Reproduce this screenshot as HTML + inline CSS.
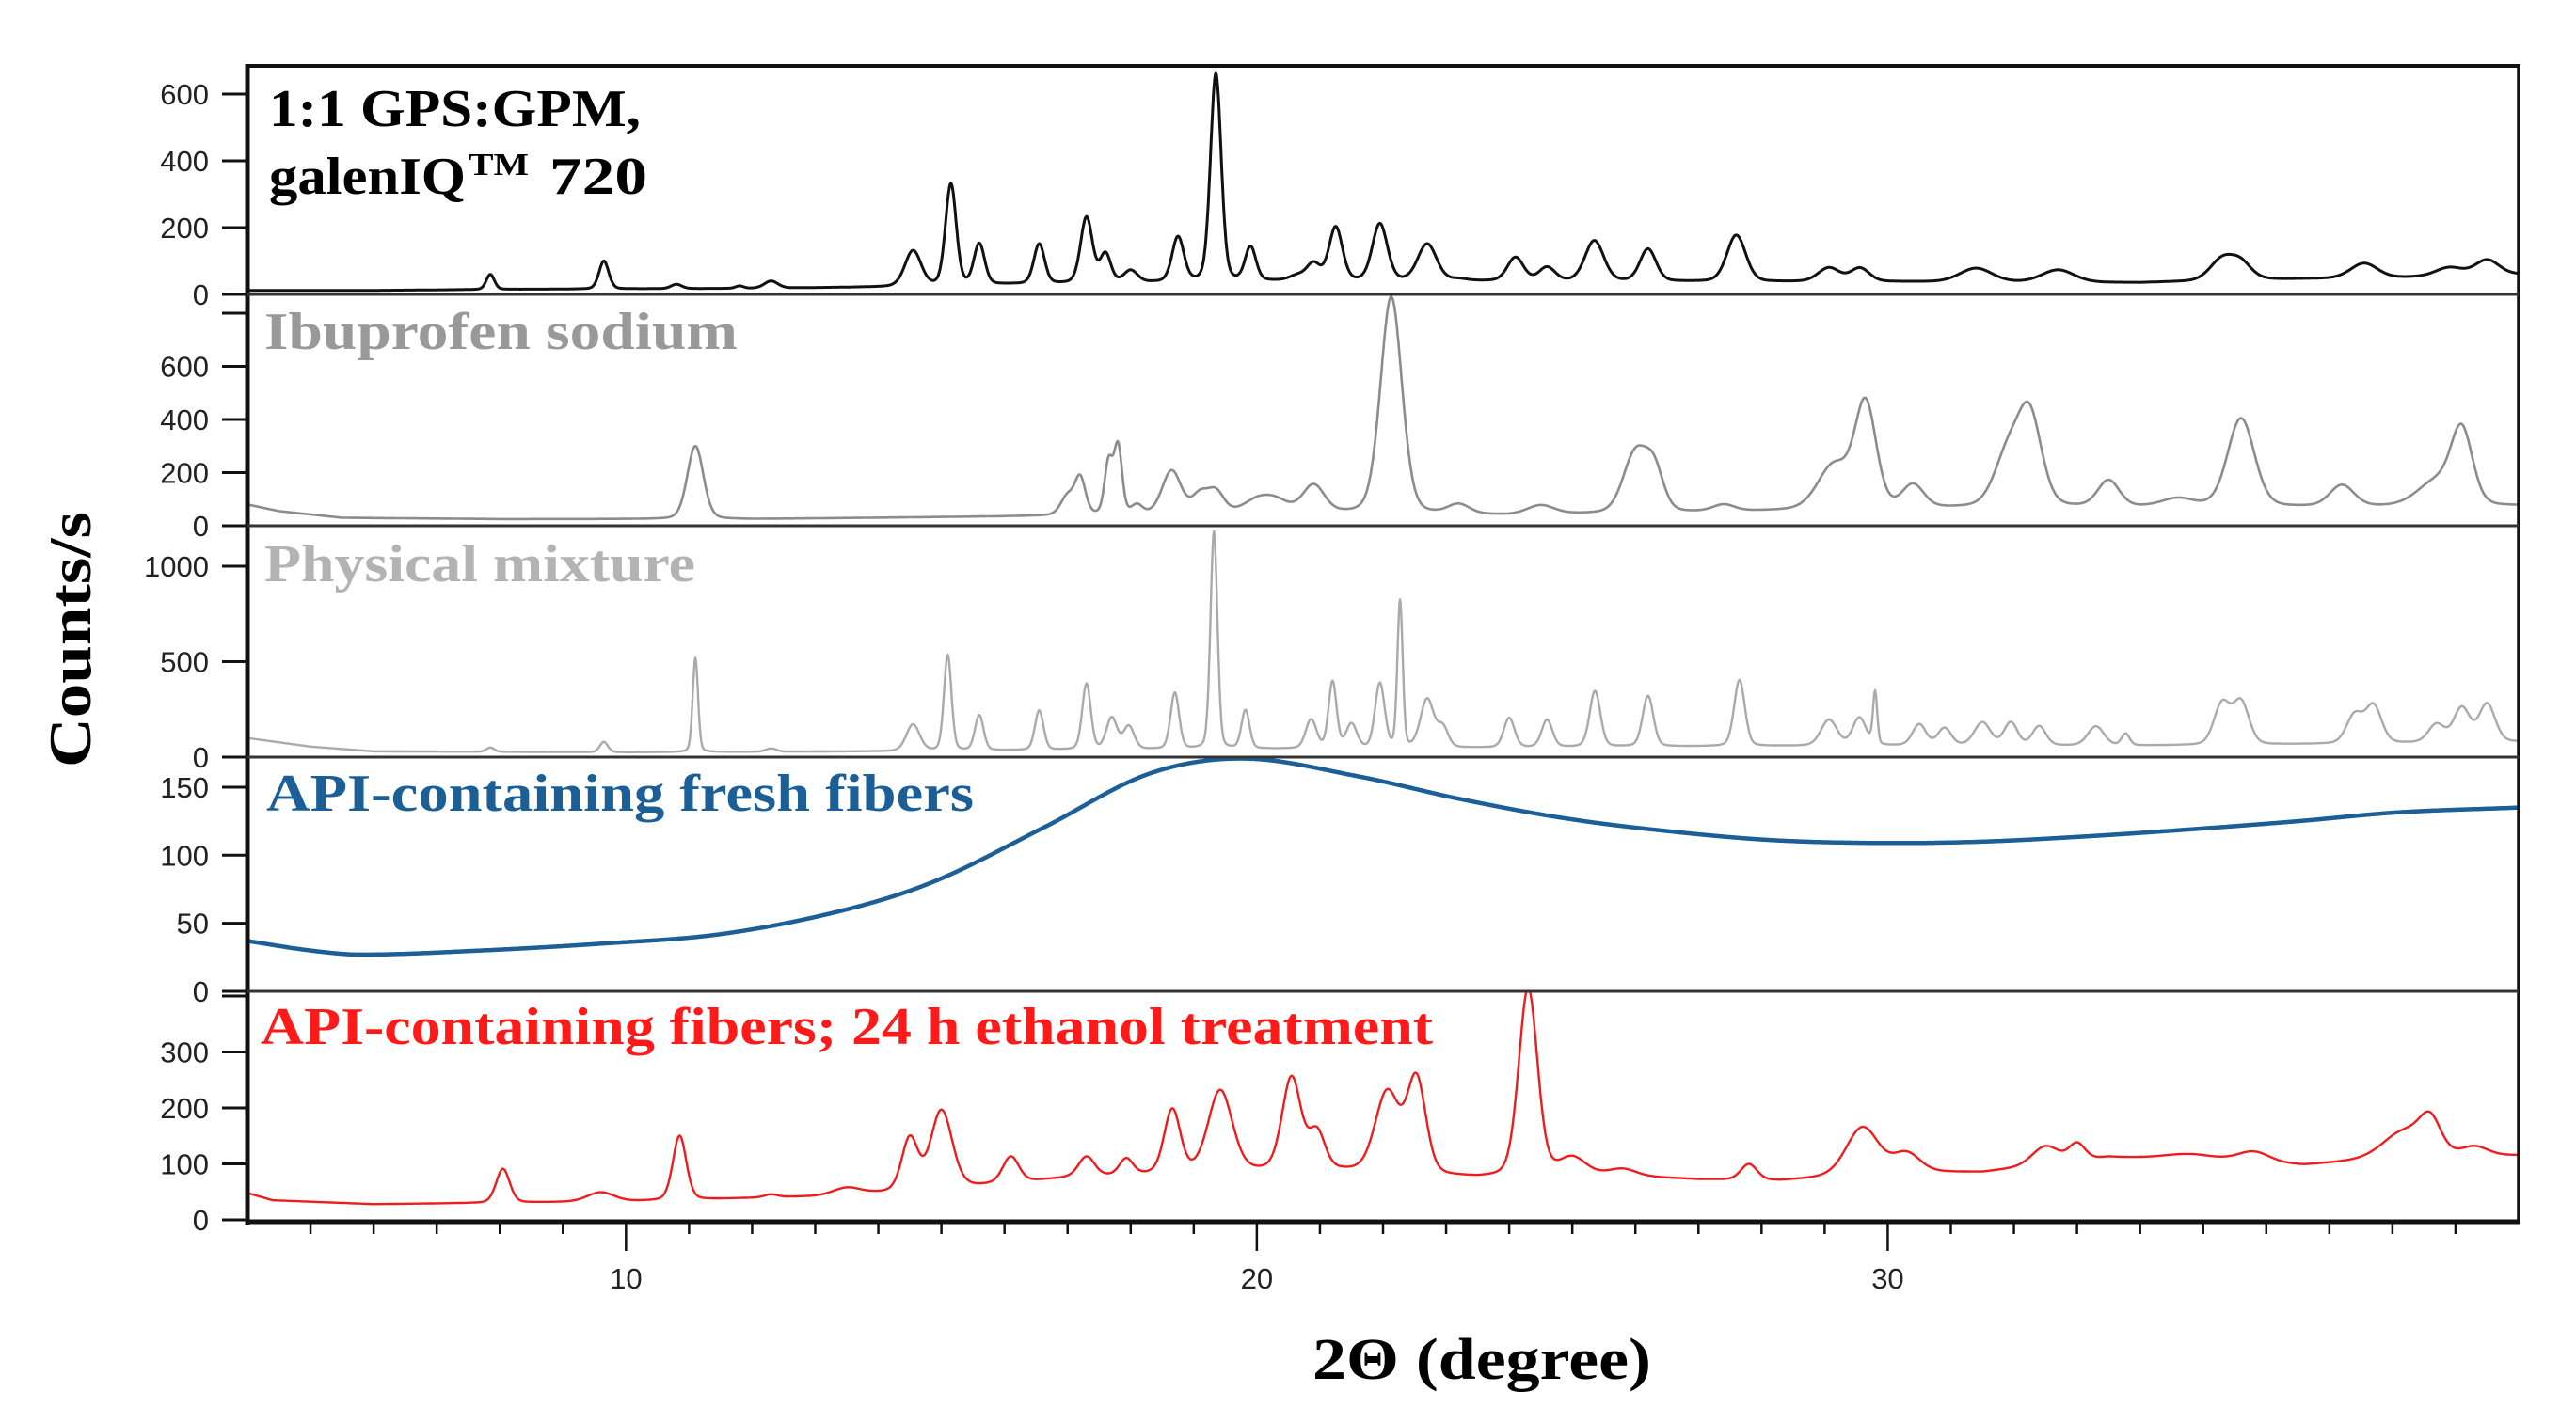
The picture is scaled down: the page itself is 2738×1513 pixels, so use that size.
<!DOCTYPE html>
<html><head><meta charset="utf-8"><style>
html,body{margin:0;padding:0;background:#fff;}
svg{display:block;}
</style></head><body>
<svg id="chart" width="2738" height="1513" viewBox="0 0 2738 1513" xmlns="http://www.w3.org/2000/svg">
<defs>
<clipPath id="c1"><rect x="263" y="70" width="2414" height="243"/></clipPath>
<clipPath id="c2"><rect x="263" y="313" width="2414" height="246"/></clipPath>
<clipPath id="c3"><rect x="263" y="559" width="2414" height="246"/></clipPath>
<clipPath id="c4"><rect x="263" y="805" width="2414" height="249"/></clipPath>
<clipPath id="c5"><rect x="263" y="1054" width="2414" height="245"/></clipPath>
</defs>
<g id="traces"></g>
<g id="frame"></g>
<g id="yticks"></g>
<g id="xticks"></g>
<text transform="translate(96,680) rotate(-90)" text-anchor="middle" font-family="Liberation Serif, serif" font-weight="bold" font-size="64" fill="#000" textLength="272" lengthAdjust="spacingAndGlyphs">Counts/s</text>
<text x="1395" y="1466" font-family="Liberation Serif, serif" font-weight="bold" font-size="62" fill="#000" textLength="360" lengthAdjust="spacingAndGlyphs">2Θ (degree)</text>
<text x="286" y="134" font-family="Liberation Serif, serif" font-weight="bold" font-size="56" fill="#000" textLength="395" lengthAdjust="spacingAndGlyphs">1:1 GPS:GPM,</text>
<g font-family="Liberation Serif, serif" font-weight="bold" fill="#000">
<text x="286" y="206" font-size="56" textLength="209" lengthAdjust="spacingAndGlyphs">galenIQ</text>
<text x="498" y="186" font-size="34" textLength="64" lengthAdjust="spacingAndGlyphs">TM</text>
<text x="584" y="206" font-size="56" textLength="104" lengthAdjust="spacingAndGlyphs">720</text>
</g>
<text x="281" y="371" font-family="Liberation Serif, serif" font-weight="bold" font-size="56" fill="#999" textLength="503" lengthAdjust="spacingAndGlyphs">Ibuprofen sodium</text>
<text x="281" y="618" font-family="Liberation Serif, serif" font-weight="bold" font-size="56" fill="#b3b3b3" textLength="458" lengthAdjust="spacingAndGlyphs">Physical mixture</text>
<text x="283" y="862" font-family="Liberation Serif, serif" font-weight="bold" font-size="56" fill="#1b5f96" textLength="752" lengthAdjust="spacingAndGlyphs">API-containing  fresh fibers</text>
<text x="277" y="1110" font-family="Liberation Serif, serif" font-weight="bold" font-size="56" fill="#ff1a1a" textLength="1246" lengthAdjust="spacingAndGlyphs">API-containing  fibers; 24 h ethanol treatment</text>
</svg>
<script>
// ---- data ----
const xDomain = [4, 40];
const xTickMajor = [10, 20, 30];
// Panel 1: 1:1 GPS:GPM galenIQ 720
const p1BaseX = [4, 6, 8, 12, 14, 16, 20, 24, 28, 30, 34, 36, 38, 40];
const p1BaseY = [12, 12, 15, 18, 22, 30, 40, 40, 38, 38, 35, 45, 50, 60];
const p1PeakX = [7.85, 9.65, 10.8, 11.8, 12.3, 14.55, 15.15, 15.6, 16.55, 17.3, 17.6, 18.0, 18.75, 19.35, 19.9, 20.65, 20.9, 21.25, 21.95, 22.7, 23.2, 24.1, 24.6, 25.35, 26.2, 27.6, 29.07, 29.56, 31.4, 32.7, 35.3, 35.6, 37.55, 38.9, 39.5];
const p1PeakY = [60, 100, 30, 25, 40, 130, 330, 150, 150, 230, 120, 70, 170, 660, 140, 55, 90, 200, 210, 150, 45, 110, 80, 160, 135, 177, 79, 78, 78, 73, 104, 90, 93, 80, 103];
const p1PeakW = [0.15, 0.18, 0.2, 0.15, 0.25, 0.3, 0.2, 0.2, 0.2, 0.22, 0.2, 0.25, 0.22, 0.2, 0.2, 0.3, 0.25, 0.25, 0.28, 0.35, 0.3, 0.3, 0.3, 0.35, 0.3, 0.35, 0.4, 0.35, 0.6, 0.6, 0.45, 0.4, 0.5, 0.5, 0.45];
// Panel 2: Ibuprofen sodium
const p2BaseX = [4, 4.5, 5.5, 8, 12, 14, 16, 20, 24, 28, 32, 36, 40];
const p2BaseY = [80, 55, 30, 25, 25, 30, 35, 50, 40, 55, 70, 70, 75];
const p2PeakX = [11.1, 17.0, 17.2, 17.65, 17.8, 18.1, 18.65, 19.1, 19.35, 20.0, 20.3, 20.9, 22.13, 23.2, 24.5, 26.0, 26.3, 27.4, 29.15, 29.65, 30.4, 31.9, 32.25, 33.5, 34.6, 35.6, 37.2, 38.7, 39.1];
const p2PeakY = [300, 110, 175, 235, 295, 75, 205, 115, 125, 90, 90, 150, 860, 77, 75, 270, 195, 77, 225, 450, 150, 260, 405, 168, 100, 403, 151, 165, 344];
const p2PeakW = [0.3, 0.25, 0.2, 0.15, 0.15, 0.2, 0.35, 0.3, 0.3, 0.5, 0.5, 0.4, 0.4, 0.4, 0.5, 0.45, 0.35, 0.4, 0.6, 0.4, 0.4, 0.5, 0.45, 0.4, 0.6, 0.5, 0.45, 0.7, 0.4];
// Panel 3: physical mixture
const p3BaseX = [4, 5, 6, 10, 14, 18, 22, 26, 30, 34, 36, 40];
const p3BaseY = [100, 55, 30, 25, 30, 40, 45, 55, 60, 60, 65, 80];
const p3PeakX = [7.85, 9.65, 11.1, 12.3, 14.55, 15.1, 15.6, 16.55, 17.3, 17.7, 17.97, 18.7, 19.32, 19.82, 20.86, 21.2, 21.5, 21.95, 22.27, 22.7, 22.95, 24.0, 24.6, 25.36, 26.2, 27.65, 29.07, 29.55, 29.8, 30.5, 30.9, 31.5, 31.95, 32.4, 33.3, 33.77, 35.3, 35.6, 37.4, 37.7, 38.7, 39.1, 39.5];
const p3PeakY = [50, 80, 520, 45, 170, 534, 218, 243, 383, 204, 160, 335, 1180, 243, 194, 393, 170, 383, 815, 301, 150, 204, 194, 345, 320, 403, 194, 204, 335, 170, 150, 180, 180, 160, 160, 121, 277, 286, 218, 267, 170, 257, 277];
const p3PeakW = [0.15, 0.15, 0.1, 0.2, 0.25, 0.14, 0.16, 0.16, 0.16, 0.2, 0.2, 0.16, 0.13, 0.15, 0.2, 0.15, 0.2, 0.18, 0.1, 0.25, 0.2, 0.2, 0.2, 0.2, 0.2, 0.2, 0.3, 0.25, 0.08, 0.25, 0.25, 0.3, 0.25, 0.25, 0.3, 0.15, 0.3, 0.3, 0.3, 0.3, 0.3, 0.3, 0.3];
// Panel 4: fresh fibers (amorphous halo)
const p4X = [4.0, 5.0, 5.8, 7.7, 9.6, 11.5, 13.4, 14.9, 16.65, 18.3, 19.8, 21.6, 23.25, 24.9, 26.55, 28.2, 29.9, 31.5, 33.2, 34.8, 36.5, 38.1, 40.0];
const p4Y = [37, 30, 27, 30, 35, 42, 59, 81, 121, 160, 171, 158, 141, 127, 117.5, 111, 109, 110, 114, 119, 125, 131.5, 135];
// Panel 5: ethanol-treated fibers
const p5BaseX = [4, 4.4, 6, 10, 13, 14, 15.5, 17, 19, 21, 23.5, 25, 27, 28.3, 30.2, 31.5, 33.5, 36.6, 38, 40];
const p5BaseY = [48, 35, 28, 33, 42, 48, 60, 75, 85, 90, 75, 82, 72, 70, 85, 85, 112, 98, 110, 115];
const p5PeakX = [8.05, 9.6, 10.85, 12.3, 13.5, 14.5, 15.0, 16.1, 17.3, 17.93, 18.66, 19.42, 20.55, 20.95, 22.07, 22.53, 24.3, 25.0, 25.8, 27.8, 29.6, 30.3, 32.5, 33.0, 34.8, 35.8, 38.2, 38.6, 39.3];
const p5PeakY = [91, 49, 150, 45, 57, 145, 195, 112, 112, 108, 196, 230, 253, 155, 227, 249, 413, 110, 90, 99, 165, 118, 131, 135, 117, 121, 158, 168, 130];
const p5PeakW = [0.25, 0.5, 0.25, 0.25, 0.5, 0.3, 0.4, 0.3, 0.3, 0.25, 0.3, 0.45, 0.35, 0.3, 0.45, 0.35, 0.35, 0.5, 0.5, 0.3, 0.6, 0.5, 0.5, 0.3, 1.0, 0.6, 0.8, 0.4, 0.5];
// axis tick labels per panel
const p1Ticks = [0, 200, 400, 600];
const p2Ticks = [0, 200, 400, 600, 800];
const p3Ticks = [0, 500, 1000];
const p4Ticks = [0, 50, 100, 150];
const p5Ticks = [0, 100, 200, 300, 400];
const p2Hidden = [800];
const p5Hidden = [400];

// ---- layout ----
const X0 = 263, X1 = 2677;
function xs(v) { return X0 + (v - xDomain[0]) * (X1 - X0) / (xDomain[1] - xDomain[0]); }
const panels = [
  {zero: 313, ppu: 0.355, top: 70},
  {zero: 559, ppu: 0.2825, top: 313},
  {zero: 805, ppu: 0.203, top: 559},
  {zero: 1054, ppu: 1.447, top: 805},
  {zero: 1297, ppu: 0.595, top: 1054}
];
function ys(p, v) { return panels[p].zero - v * panels[p].ppu; }
function interp(xa, ya, x) {
  if (x <= xa[0]) return ya[0];
  for (let i = 1; i < xa.length; i++) {
    if (x <= xa[i]) { const t = (x - xa[i-1]) / (xa[i] - xa[i-1]); return ya[i-1] + t * (ya[i] - ya[i-1]); }
  }
  return ya[ya.length - 1];
}
function spline(xa, ya, x) {
  // Catmull-Rom (non-uniform tangents) through data points
  const n = xa.length;
  if (x <= xa[0]) return ya[0];
  if (x >= xa[n-1]) return ya[n-1];
  let i = 1;
  while (x > xa[i]) i++;
  const x0 = xa[i-1], x1 = xa[i], y0 = ya[i-1], y1 = ya[i];
  const h = x1 - x0, t = (x - x0) / h;
  function slope(k) {
    if (k === 0) return (ya[1] - ya[0]) / (xa[1] - xa[0]);
    if (k === n - 1) return (ya[n-1] - ya[n-2]) / (xa[n-1] - xa[n-2]);
    return (ya[k+1] - ya[k-1]) / (xa[k+1] - xa[k-1]);
  }
  const m0 = slope(i-1) * h, m1 = slope(i) * h;
  const t2 = t * t, t3 = t2 * t;
  return (2*t3 - 3*t2 + 1) * y0 + (t3 - 2*t2 + t) * m0 + (-2*t3 + 3*t2) * y1 + (t3 - t2) * m1;
}
function spectrum(bx, by, px, py, pw, x) {
  const b = interp(bx, by, x);
  let s = 0;
  for (let i = 0; i < px.length; i++) {
    const h = Math.max(0, py[i] - interp(bx, by, px[i]));
    const d = (x - px[i]) / (pw[i] / 2);
    s += h * (0.8 * Math.exp(-Math.LN2 * d * d) + 0.2 / (1 + d * d));
  }
  return b + s;
}
const NS = 'http://www.w3.org/2000/svg';
const gT = document.getElementById('traces');
function addPath(p, fn, color, width, name) {
  let d = '';
  for (let x = xDomain[0]; x <= xDomain[1] + 1e-9; x += 0.01) {
    d += (d ? 'L' : 'M') + xs(x).toFixed(1) + ',' + ys(p, fn(x)).toFixed(1);
  }
  const el = document.createElementNS(NS, 'path');
  el.setAttribute('d', d);
  el.setAttribute('fill', 'none');
  el.setAttribute('stroke', color);
  el.setAttribute('stroke-width', width);
  el.setAttribute('stroke-linejoin', 'round');
  el.setAttribute('clip-path', 'url(#c' + (p + 1) + ')');
  
  
  gT.appendChild(el);
}
addPath(0, x => spectrum(p1BaseX, p1BaseY, p1PeakX, p1PeakY, p1PeakW, x), '#111', 3, 'gps-gpm-trace');
addPath(1, x => spectrum(p2BaseX, p2BaseY, p2PeakX, p2PeakY, p2PeakW, x), '#8c8c8c', 2.6, 'ibuprofen-sodium-trace');
addPath(2, x => spectrum(p3BaseX, p3BaseY, p3PeakX, p3PeakY, p3PeakW, x), '#aaaaaa', 2.4, 'physical-mixture-trace');
addPath(3, x => spline(p4X, p4Y, x), '#1b5f96', 4.5, 'fresh-fibers-trace');
addPath(4, x => spectrum(p5BaseX, p5BaseY, p5PeakX, p5PeakY, p5PeakW, x), '#ee1c1c', 2.4, 'ethanol-fibers-trace');

// frame
const gF = document.getElementById('frame');
function line(g, x1, y1, x2, y2, w, c) {
  const l = document.createElementNS(NS, 'line');
  l.setAttribute('x1', x1); l.setAttribute('y1', y1); l.setAttribute('x2', x2); l.setAttribute('y2', y2);
  l.setAttribute('stroke', c || '#111'); l.setAttribute('stroke-width', w);
  g.appendChild(l);
  return l;
}
let fl = line(gF, X0 - 2, 70, X1 + 2, 70, 4);


fl = line(gF, X1, 70, X1, 1300, 3.5);


fl = line(gF, X0, 68, X0, 1302, 5);


fl = line(gF, X0 - 2, 1299, X1 + 2, 1299, 5);


[313, 559, 805, 1054].forEach(function (y) {
  const s = line(gF, X0, y, X1, y, 3, '#333');
  
  
});

// y ticks
const gY = document.getElementById('yticks');
const tickSets = [p1Ticks, p2Ticks, p3Ticks, p4Ticks, p5Ticks];
const hidden = [[], p2Hidden, [], [], p5Hidden];
tickSets.forEach(function (ticks, p) {
  ticks.forEach(function (v) {
    const y = ys(p, v);
    const t = line(gY, 236, y, X0, y, 3);
    
    
    if (hidden[p].indexOf(v) < 0) {
      const tx = document.createElementNS(NS, 'text');
      tx.setAttribute('x', 222); tx.setAttribute('y', y + 11);
      tx.setAttribute('text-anchor', 'end');
      tx.setAttribute('font-family', 'Liberation Sans, sans-serif');
      tx.setAttribute('font-size', '31');
      tx.setAttribute('fill', '#222');
      tx.textContent = v;
      
      
      gY.appendChild(tx);
    }
  });
});

// x ticks
const gX = document.getElementById('xticks');
for (let v = Math.ceil(xDomain[0]) + 1; v < xDomain[1]; v++) {
  const major = xTickMajor.indexOf(v) >= 0;
  const t = line(gX, xs(v), 1299, xs(v), major ? 1330 : 1312, 2.5);
  
  
}
xTickMajor.forEach(function (v) {
  const tx = document.createElementNS(NS, 'text');
  tx.setAttribute('x', xs(v)); tx.setAttribute('y', 1370);
  tx.setAttribute('text-anchor', 'middle');
  tx.setAttribute('font-family', 'Liberation Sans, sans-serif');
  tx.setAttribute('font-size', '31');
  tx.setAttribute('fill', '#222');
  tx.textContent = v;
  
  
  gX.appendChild(tx);
});
</script>
</body></html>
